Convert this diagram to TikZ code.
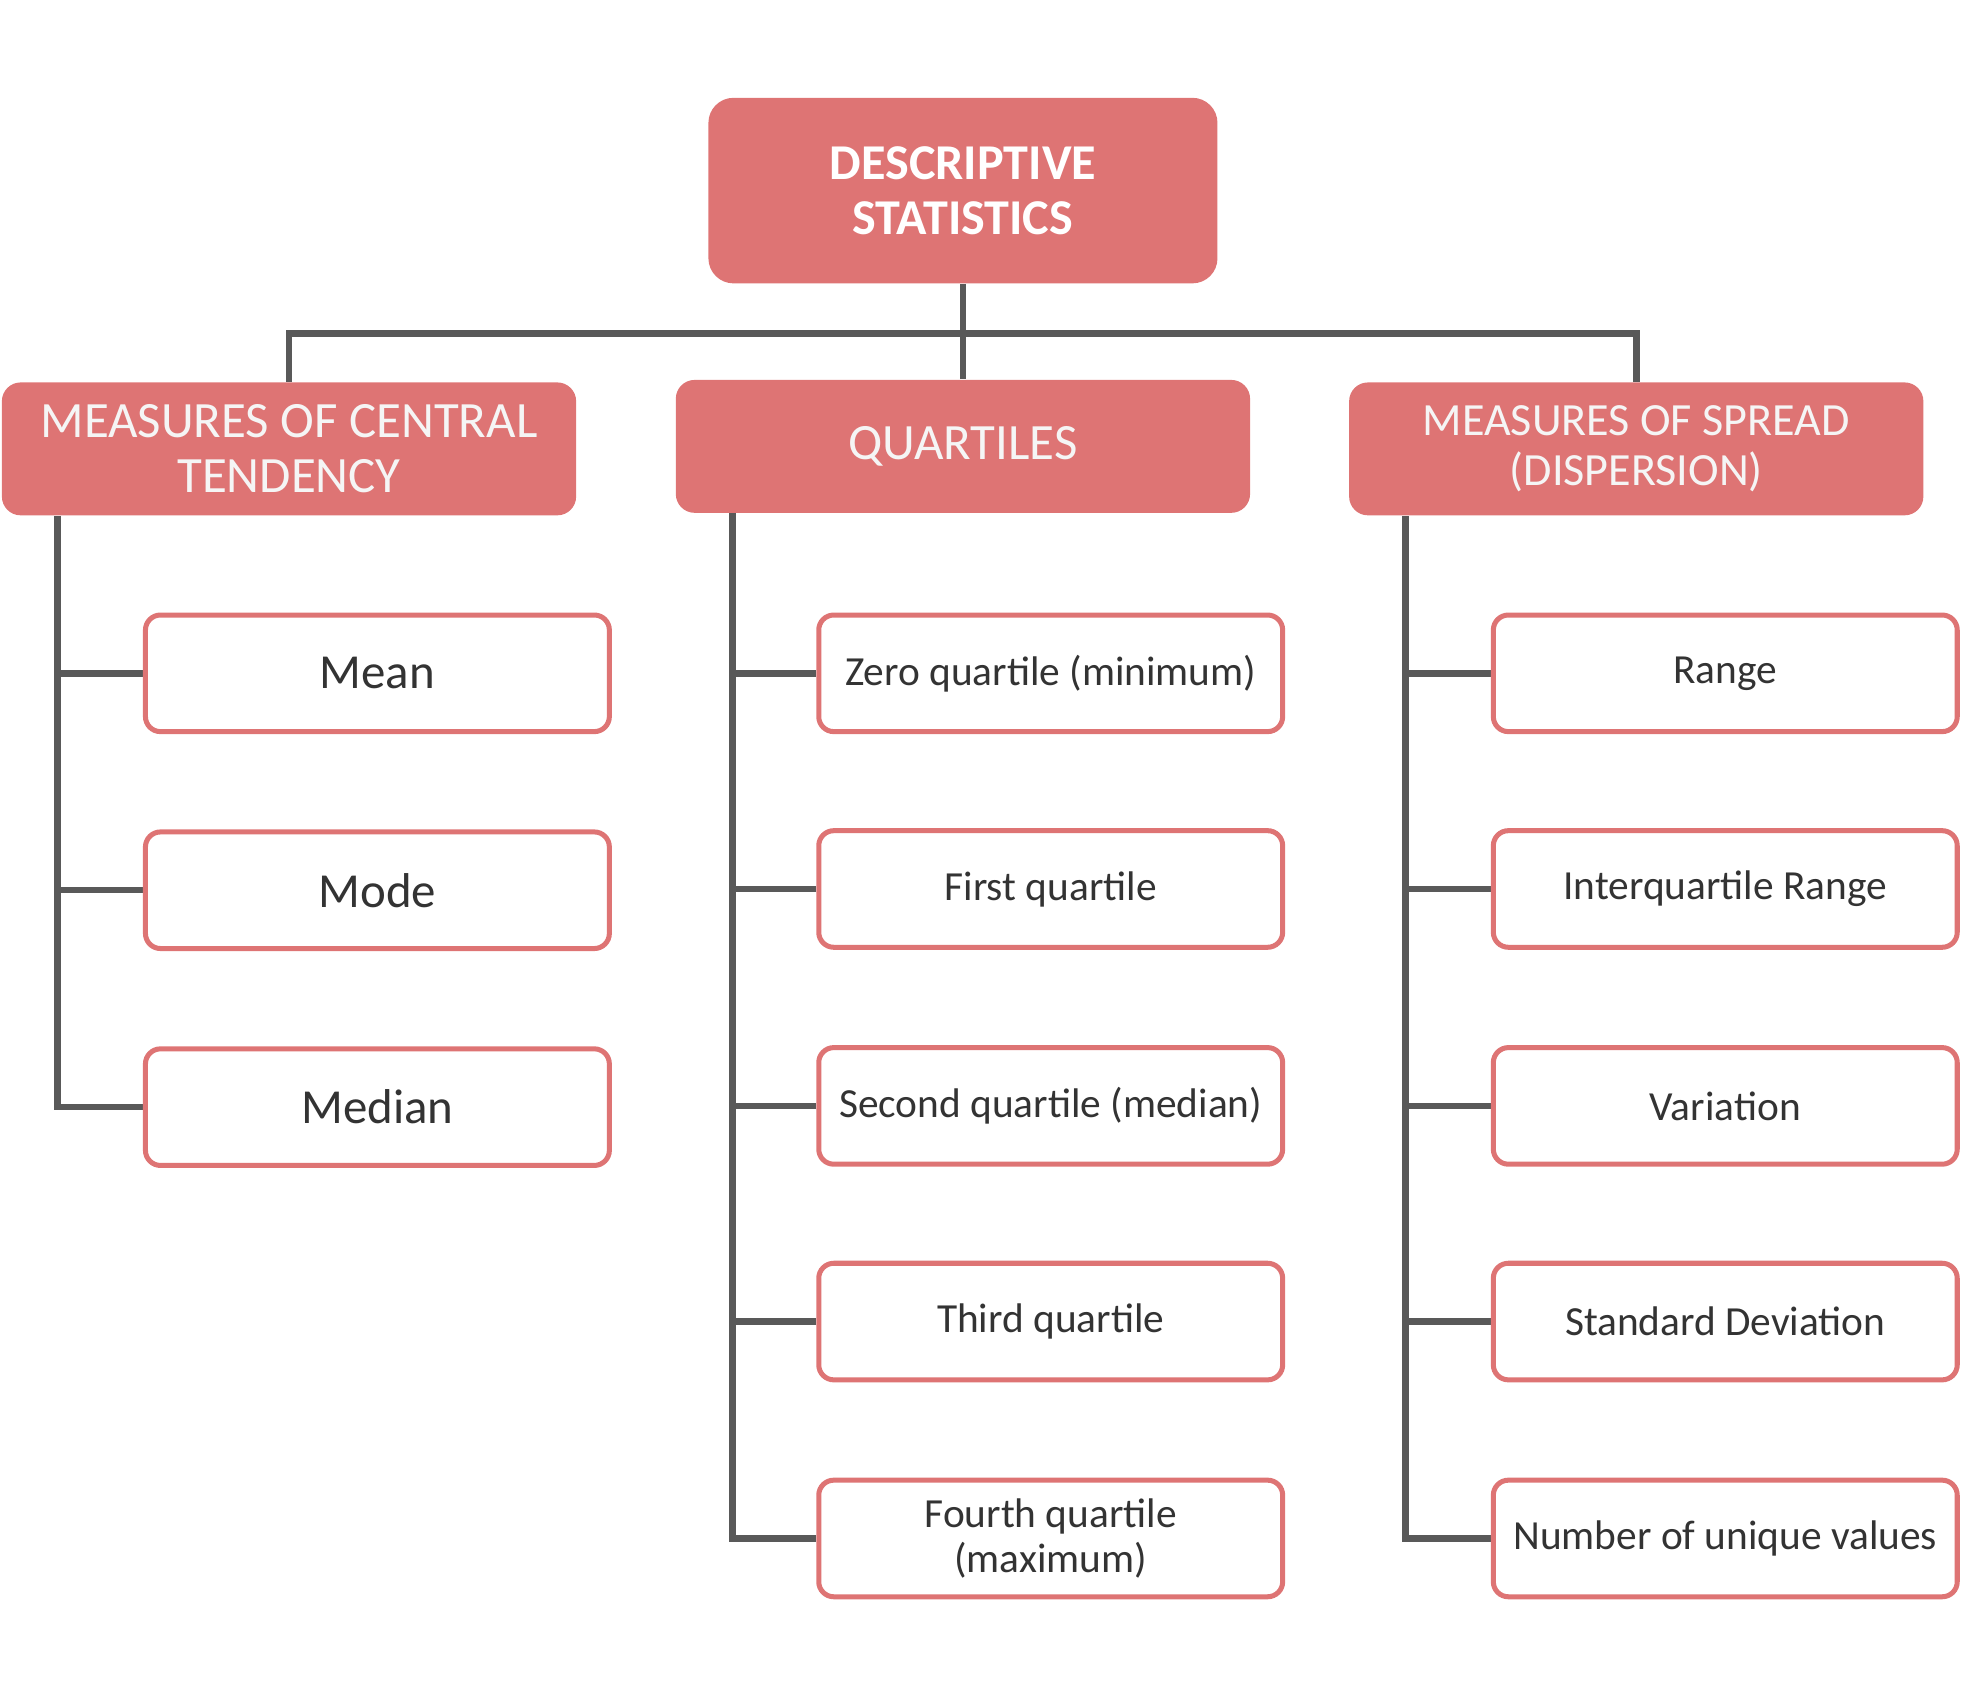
\documentclass[tikz,border=0pt]{standalone}
\usepackage{fontspec}
\setmainfont{Carlito}
\usetikzlibrary{backgrounds}
\definecolor{salmon}{HTML}{DE7474}
\definecolor{linegray}{HTML}{595959}
\definecolor{txt}{HTML}{333333}
\tikzset{
  topbox/.style={fill=salmon, draw=none, rounded corners=10pt, minimum width=203pt, minimum height=74pt,
    text=white, font=\fontsize{20}{22}\selectfont\bfseries, align=center, inner sep=0pt},
  headbox/.style={fill=salmon, draw=none, rounded corners=7.5pt, minimum width=229pt, minimum height=53pt,
    text=white!96!black, font=\fontsize{20.3}{22}\selectfont, align=center, inner sep=0pt},
  smallhead/.style={headbox, font=\fontsize{18.4}{20}\selectfont},
  leafbox/.style={draw=salmon, line width=2pt, fill=white, rounded corners=6pt, minimum width=185pt, minimum height=46.5pt,
    text=txt, font=\fontsize{16.5}{18}\selectfont, align=center, inner sep=0pt},
  bigleaf/.style={leafbox, font=\fontsize{19.5}{21}\selectfont},
  conn/.style={draw=linegray, line width=2.6pt}
}
\begin{document}
\begin{tikzpicture}[x=0.5pt,y=-0.5pt]
\useasboundingbox (0,0) rectangle (1568,1356);
\node[topbox] (top) at (768,152) {DESCRIPTIVE\\STATISTICS};
\node[headbox] (cl) at (230.5,358) {MEASURES OF CENTRAL\\TENDENCY};
\node[headbox] (cm) at (768,356) {QUARTILES};
\node[smallhead] (cr) at (1305,358) {MEASURES OF SPREAD\\(DISPERSION)};

\node[bigleaf] (mean) at (301,537) {Mean};
\node[bigleaf] (mode) at (301,710) {Mode};
\node[bigleaf] (median) at (301,883) {Median};

\node[leafbox] (q0) at (838,537) {Zero quartile (minimum)};
\node[leafbox] (q1) at (838,709) {First quartile};
\node[leafbox] (q2) at (838,882) {Second quartile (median)};
\node[leafbox] (q3) at (838,1054) {Third quartile};
\node[leafbox] (q4) at (838,1227) {Fourth quartile\\(maximum)};

\node[leafbox] (r0) at (1376,537) {Range};
\node[leafbox] (r1) at (1376,709) {Interquartile Range};
\node[leafbox] (r2) at (1376,882) {Variation};
\node[leafbox] (r3) at (1376,1054) {Standard Deviation};
\node[leafbox] (r4) at (1376,1227) {Number of unique values};

\coordinate (bar) at (768,266);
\coordinate (lx) at (46,0);
\coordinate (mx) at (584,0);
\coordinate (rx) at (1121,0);

\begin{scope}[on background layer]
\draw[conn] (top.south) -- (cm.north);
\draw[conn] (cl.north) |- (bar) -| (cr.north);

\draw[conn] (cl.south -| lx) |- (median.west);
\draw[conn] (mean.west) -- (mean.west -| lx);
\draw[conn] (mode.west) -- (mode.west -| lx);

\draw[conn] (cm.south -| mx) |- (q4.west);
\draw[conn] (q0.west) -- (q0.west -| mx);
\draw[conn] (q1.west) -- (q1.west -| mx);
\draw[conn] (q2.west) -- (q2.west -| mx);
\draw[conn] (q3.west) -- (q3.west -| mx);

\draw[conn] (cr.south -| rx) |- (r4.west);
\draw[conn] (r0.west) -- (r0.west -| rx);
\draw[conn] (r1.west) -- (r1.west -| rx);
\draw[conn] (r2.west) -- (r2.west -| rx);
\draw[conn] (r3.west) -- (r3.west -| rx);
\end{scope}
\end{tikzpicture}
\end{document}
